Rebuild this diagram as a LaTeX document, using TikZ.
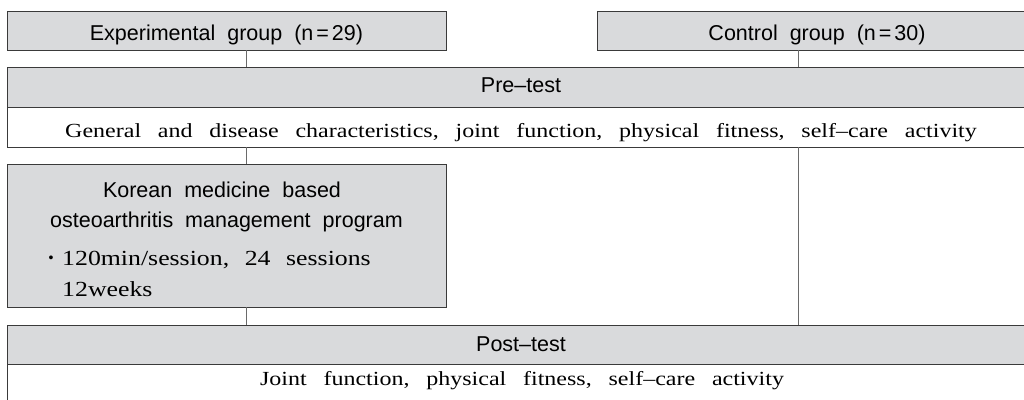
\documentclass[tikz,border=0pt]{standalone}
\usepackage{graphicx}
\usepackage{fontspec}
\setmainfont{Liberation Serif}
\newfontfamily\hdfont{Liberation Sans}
\definecolor{boxgray}{HTML}{D9DADC}
\definecolor{edge}{HTML}{3A3A3A}
\definecolor{link}{HTML}{6A6A6A}
\newcommand{\sg}{\hspace{12pt}}
\newcommand{\rg}{\hspace{14pt}}
\newcommand{\pg}{\hspace{13pt}}
\newcommand{\wide}[1]{\scalebox{1.2}[1]{#1}}
\tikzset{
  graybox/.style={draw=edge, line width=1pt, fill=boxgray, inner sep=0pt},
  whitebox/.style={draw=edge, line width=0.8pt, fill=white, inner sep=0pt},
  hdtext/.style={font=\hdfont\fontsize{21.5}{24}\selectfont, inner sep=0pt, anchor=base},
  bdtext/.style={font=\fontsize{20}{24}\selectfont, inner sep=0pt, anchor=base},
  pgtext/.style={font=\fontsize{21.5}{26}\selectfont, inner sep=0pt, anchor=base west},
  linkline/.style={draw=link, line width=1pt}
}
\begin{document}
\begin{tikzpicture}[x=1pt,y=-1pt]
\useasboundingbox (0,0) rectangle (1024,399);
\begin{scope}
\clip (0,0) rectangle (1024,399);
% group boxes
\draw[graybox] (7,11) rectangle (446,50);
\node[hdtext] (exp) at (226.5,40.5) {Experimental\sg group\sg (n\hspace{3pt}=\hspace{3pt}29)};
\draw[graybox] (597,11) rectangle (1037,50);
\node[hdtext] (ctl) at (817,40.5) {Control\sg group\sg (n\hspace{3pt}=\hspace{3pt}30)};
\coordinate (expb) at (246,50);
\coordinate (ctlb) at (798,50);

% pre-test
\draw[whitebox] (7,107) rectangle (1037,147);
\draw[graybox] (7,67) rectangle (1037,107);
\node[hdtext] (pre) at (521,92.5) {Pre–test};
\node[bdtext] (prebody) at (521,137) {\wide{General\rg and\rg disease\rg characteristics,\rg joint\rg function,\rg physical\rg fitness,\rg self–care\rg activity}};
\coordinate (pret1) at (246,67);
\coordinate (pret2) at (798,67);
\coordinate (preb1) at (246,147);
\coordinate (preb2) at (798,147);

% program
\draw[graybox] (7,164) rectangle (446,307);
\node[hdtext] (prog1) at (222,197) {Korean\sg medicine\sg based};
\node[hdtext] (prog2) at (226.5,227) {osteoarthritis\sg management\sg program};
\node[font=\hdfont\fontsize{14}{14}\selectfont, inner sep=0pt] (bul) at (51,259) {•};
\node[pgtext] (prog3) at (62,265) {\wide{120min/session,\pg 24\pg sessions}};
\node[pgtext] (prog4) at (62,296) {\wide{12weeks}};
\coordinate (progt) at (246,164);
\coordinate (progb) at (246,307);

% post-test
\draw[whitebox] (7,364) rectangle (1037,420);
\draw[graybox] (7,325) rectangle (1037,364);
\node[hdtext] (post) at (521,351) {Post–test};
\node[bdtext] (postbody) at (522,385) {\wide{Joint\rg function,\rg physical\rg fitness,\rg self–care\rg activity}};
\coordinate (postt1) at (246,325);
\coordinate (postt2) at (798,325);

% connectors
\draw[linkline] (expb) -- (pret1);
\draw[linkline] (ctlb) -- (pret2);
\draw[linkline] (preb1) -- (progt);
\draw[linkline] (progb) -- (postt1);
\draw[linkline] (preb2) -- (postt2);
\end{scope}
\end{tikzpicture}
\end{document}
